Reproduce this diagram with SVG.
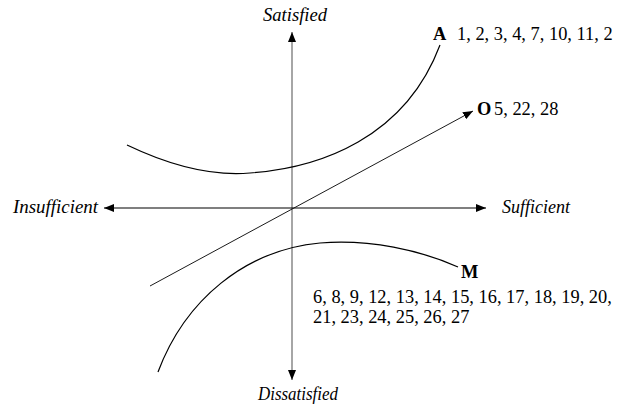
<svg xmlns="http://www.w3.org/2000/svg" width="629" height="408" viewBox="0 0 629 408">
<style>
.lbl{font-family:"Liberation Serif","Times New Roman",serif;font-style:italic;font-size:18px;fill:#000}
.txt{font-family:"Liberation Serif","Times New Roman",serif;font-size:18.4px;fill:#000}
.b{font-weight:bold}
.ax{stroke:#000;stroke-width:1.2;fill:none}
.curve{stroke:#000;stroke-width:1.2;fill:none}
</style>
<defs>
<marker id="ah" markerWidth="10" markerHeight="8" refX="10" refY="4" orient="auto" markerUnits="userSpaceOnUse">
<path d="M0,0 L10,4 L0,8 Z" fill="#000"/>
</marker>
</defs>
<g id="connectors">
<line id="axis-v-up" x1="292" y1="208" x2="292" y2="32" stroke="#888" stroke-width="1.5" marker-end="url(#ah)"/>
<line id="axis-v-down" x1="292" y1="208" x2="292" y2="380" stroke="#888" stroke-width="1.5" marker-end="url(#ah)"/>
<line id="axis-h-left" x1="292" y1="208" x2="104" y2="208" class="ax" marker-end="url(#ah)"/>
<line id="axis-h-right" x1="292" y1="208" x2="486" y2="208" class="ax" marker-end="url(#ah)"/>
<line id="diag" x1="150" y1="286" x2="473" y2="111" stroke="#000" stroke-width="0.9" marker-end="url(#ah)"/>
<path id="curve-A" class="curve" d="M127,145 C175,168 215,176 250,173 C320,168 405,138 440,45"/>
<path id="curve-M" class="curve" d="M158,372 C185,300 245,250 320,243 C370,239 420,250 458,267"/>
</g>
<g id="satisfied"><text class="lbl" x="263" y="21" textLength="64" lengthAdjust="spacingAndGlyphs">Satisfied</text></g>
<g id="dissatisfied"><text class="lbl" x="258" y="400" textLength="80" lengthAdjust="spacingAndGlyphs">Dissatisfied</text></g>
<g id="insufficient"><text class="lbl" x="13" y="213" textLength="85" lengthAdjust="spacingAndGlyphs">Insufficient</text></g>
<g id="sufficient"><text class="lbl" x="502" y="213" textLength="68" lengthAdjust="spacingAndGlyphs">Sufficient</text></g>
<g id="node-A"><text class="txt b" x="433" y="40">A</text><text class="txt" x="457" y="40">1, 2, 3, 4, 7, 10, 11, 2</text></g>
<g id="node-O"><text class="txt b" x="477" y="115">O</text><text class="txt" x="494" y="115">5, 22, 28</text></g>
<g id="node-M"><text class="txt b" x="461" y="278">M</text><text class="txt" x="313" y="303">6, 8, 9, 12, 13, 14, 15, 16, 17, 18, 19, 20,</text><text class="txt" x="313" y="323">21, 23, 24, 25, 26, 27</text></g>
</svg>
